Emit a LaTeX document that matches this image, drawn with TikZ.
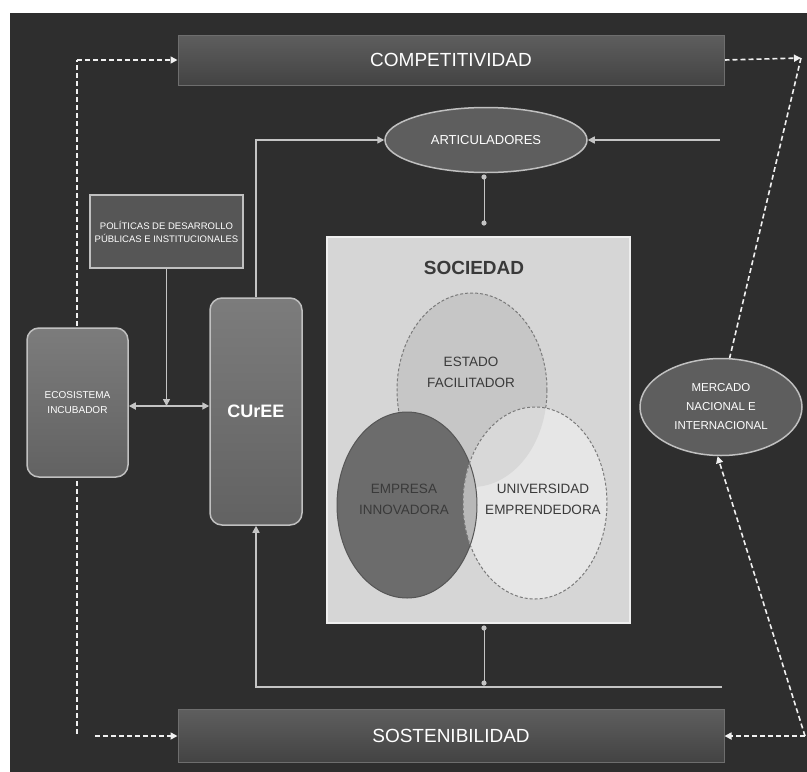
\documentclass[tikz,border=0pt]{standalone}
\usepackage{fontspec}
\setmainfont{Liberation Sans}
\usetikzlibrary{arrows.meta,shapes.geometric,calc}
\pgfdeclarelayer{backlayer}
\pgfdeclarelayer{dashlayer}
\pgfsetlayers{backlayer,dashlayer,main}
\definecolor{bgdark}{HTML}{2E2E2E}
\definecolor{barA}{HTML}{5E5E5E}
\definecolor{barB}{HTML}{434343}
\definecolor{barEdge}{HTML}{6E6E6E}
\definecolor{boxA}{HTML}{7C7C7C}
\definecolor{boxB}{HTML}{626262}
\definecolor{lineC}{HTML}{C4C4C4}
\definecolor{boxEdge}{HTML}{C0C0C0}
\definecolor{socfill}{HTML}{D6D6D6}
\definecolor{socedge}{HTML}{EEEEEE}
\definecolor{estfill}{HTML}{C6C6C6}
\definecolor{empfill}{HTML}{6C6C6C}
\definecolor{unifill}{HTML}{E6E6E6}
\definecolor{intfill}{HTML}{B8B8B8}
\definecolor{eufill}{HTML}{D8D8D8}
\definecolor{vennedge}{HTML}{7A7A7A}
\definecolor{venntxt}{HTML}{3A3A3A}
\begin{document}
\begin{tikzpicture}[x=1pt,y=-1pt,
  tip/.style={-{Triangle[length=7pt,width=7pt]}},
  bar/.style={rectangle, minimum width=546pt, top color=barA, bottom color=barB,
    draw=barEdge, line width=1pt, text=white, font=\fontsize{19}{21}\selectfont},
  ovalbox/.style={ellipse, inner sep=0pt, fill=barA, draw=boxEdge, line width=1.5pt,
    text=white, align=center},
  rbox/.style={rectangle, rounded corners=12pt, draw=boxEdge, line width=1.5pt,
    top color=boxA, bottom color=boxB, text=white, align=center},
  conn/.style={draw=lineC, line width=1.6pt},
  thinc/.style={draw=lineC, line width=1pt},
  dashc/.style={draw=white!88!gray, line width=1.6pt, dash pattern=on 5pt off 3pt},
  venn/.style={draw=vennedge, line width=1pt, dash pattern=on 3pt off 2pt},
  venntext/.style={text=venntxt, align=center, font=\fontsize{13.5}{21}\selectfont}
]
\useasboundingbox (0,0) rectangle (807,772);
\begin{pgfonlayer}{backlayer}
\fill[white] (0,0) rectangle (807,772);
\fill[bgdark] (10,13) rectangle (807,772);
\end{pgfonlayer}

% bars
\node[bar, minimum height=50pt] (comp) at (451,60) {COMPETITIVIDAD};
\node[bar, minimum height=53pt] (sost) at (451,736) {SOSTENIBILIDAD};

% ellipses
\node[ovalbox, minimum width=202pt, minimum height=65pt, font=\fontsize{13}{15}\selectfont] (artic) at (486,140) {ARTICULADORES};
\node[ovalbox, minimum width=162pt, minimum height=97pt, font=\fontsize{11.5}{19}\selectfont] (merc) at (721,407) {MERCADO\\NACIONAL E\\INTERNACIONAL};

% left boxes
\node[rectangle, draw=boxEdge, line width=1.5pt, fill=barB!90!white, minimum width=153pt, minimum height=73pt,
  text=white, align=center, font=\fontsize{9.5}{13}\selectfont] (pol) at (166.5,231.5) {POLÍTICAS DE DESARROLLO\\PÚBLICAS E INSTITUCIONALES};
\node[rbox, minimum width=92pt, minimum height=227pt, font=\bfseries\fontsize{18}{20}\selectfont] (cure) at (256,411.5) {CUrEE};
\node[rbox, minimum width=101pt, minimum height=149pt, font=\fontsize{10}{15}\selectfont] (eco) at (77.5,402.5) {ECOSISTEMA\\INCUBADOR};

% sociedad
\node[rectangle, fill=socfill, draw=socedge, line width=1.5pt, minimum width=303pt, minimum height=386pt] (soc) at (478.5,430) {};
\node[text=venntxt, font=\bfseries\fontsize{19}{21}\selectfont] (soclabel) at (474,268) {SOCIEDAD};

\fill[estfill] (472,390) ellipse [x radius=75, y radius=97];
\draw[venn] (472,390) ellipse [x radius=75, y radius=97];
\fill[empfill] (407,505) ellipse [x radius=70, y radius=93];
\fill[unifill] (535,503) ellipse [x radius=72, y radius=96];
\begin{scope}
  \clip (535,503) ellipse [x radius=72, y radius=96];
  \fill[eufill] (472,390) ellipse [x radius=75, y radius=97];
  \fill[intfill] (407,505) ellipse [x radius=70, y radius=93];
\end{scope}
\draw[draw=empfill!80!black, line width=1pt] (407,505) ellipse [x radius=70, y radius=93];
\draw[venn] (535,503) ellipse [x radius=72, y radius=96];
\node[venntext] (est) at (471,372) {ESTADO\\FACILITADOR};
\node[venntext] (emp) at (404,499) {EMPRESA\\INNOVADORA};
\node[venntext] (uni) at (543,499) {UNIVERSIDAD\\EMPRENDEDORA};

% solid connectors
\draw[conn, tip] (cure.north) |- (artic.west);
\coordinate (rin) at (720,140);
\draw[conn, tip] (rin) -- (artic.east);
\coordinate (br) at (722,687);
\draw[conn, tip] (br) -| (cure.south);
\coordinate (mid) at (167,406);
\draw[conn, {Triangle[length=7pt,width=7pt]}-{Triangle[length=7pt,width=7pt]}] (eco.east |- mid) -- (cure.west |- mid);
\draw[conn, tip] (pol.south) -- (pol.south |- mid);

% small connectors with dots
\coordinate (a1) at (484,177);
\coordinate (a2) at (484,223);
\coordinate (s1) at (484,628);
\coordinate (s2) at (484,683);
\draw[thinc] (a1) -- (a2);
\draw[thinc] (s1) -- (s2);
\foreach \p in {a1,a2,s1,s2} \fill[lineC] (\p) circle (2.6pt);

% dashed connectors (behind the boxes)
\begin{pgfonlayer}{dashlayer}
\coordinate (lt) at (77,60);
\coordinate (lb) at (77,734);
\coordinate (lb2) at (95,736);
\draw[dashc] (lb) -- (lt);
\draw[dashc, tip] (lt) -- (comp.west);
\draw[dashc, tip] (lb2) -- (sost.west);
\coordinate (rt) at (801,58);
\coordinate (rb) at (805,736);
\draw[dashc, tip] (comp.east) -- (rt);
\draw[dashc] (rt) -- (merc.80);
\draw[dashc, tip] (rb) -- (merc.266);
\draw[dashc, tip] (rb) -- (sost.east);
\end{pgfonlayer}
\end{tikzpicture}
\end{document}
